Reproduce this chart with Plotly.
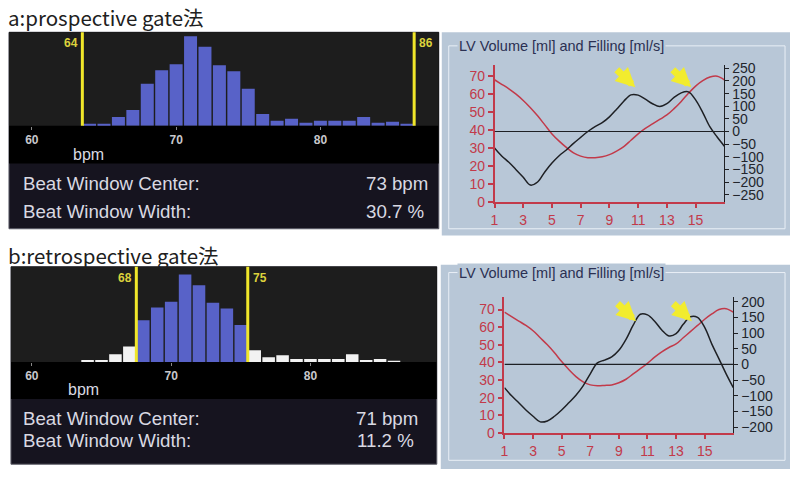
import plotly.graph_objects as go

W, H = 790, 479

# ---------------- data ----------------
bpm_bins = list(range(64, 87))
counts_a = [2, 2, 9, 16, 43, 57, 63, 92, 81, 62, 56, 38, 12, 5, 7, 3, 5, 5, 5, 9, 3, 4, 2]
counts_b = [2, 2, 8, 16, 43, 56, 62, 90, 79, 61, 55, 38, 12, 5, 7, 3, 3, 3, 3, 8, 2, 3, 1]
window_a = [64, 86]
window_b = [68, 75]
hist_ticks = [60, 70, 80]
center_a, width_a = "73 bpm", "30.7 %"
center_b, width_b = "71 bpm", "11.2 %"
title_a = "a:prospective gate法"
title_b = "b:retrospective gate法"
lv_title = "LV Volume [ml] and Filling [ml/s]"

frames = [1, 1.5, 2, 2.5, 3, 3.5, 4, 4.5, 5, 5.5, 6, 6.5, 7, 7.5, 8, 8.5, 9,
          9.5, 10, 10.5, 11, 11.5, 12, 12.5, 13, 13.5, 14, 14.5, 15, 15.5, 16, 16.5, 17]
volume_a = [68, 65.5, 63, 60, 56.5, 52.5, 48, 43, 38, 34, 30.5, 27.5, 25.7, 24.8, 24.8, 25.3, 26.5,
            28.5, 31, 34.5, 38, 41, 43.5, 46, 48.5, 52, 56, 60.5, 64.5, 67.5, 69.5, 70, 68]
filling_a = [-65, -97, -122, -151, -181, -212, -200, -160, -125, -96, -73, -47, -23, 0, 19, 35, 58,
             88, 120, 145, 144, 128, 110, 99, 110, 135, 153, 157, 125, 75, 18, -22, -58]
volume_b = [68.5, 66, 63.5, 61, 58, 54, 50, 45.5, 40.5, 36, 32, 29, 27.3, 26.8, 27, 27.3, 28.5,
            30.5, 33.5, 36.5, 39.5, 43, 46, 48.5, 50.5, 54, 57.5, 61, 64.5, 67.5, 70, 70.5, 68.5]
filling_b = [-74, -100, -122, -145, -165, -183, -180, -165, -145, -122, -98, -68, -30, 5, 14, 24, 45,
             80, 125, 160, 158, 138, 110, 91, 98, 128, 152, 150, 118, 65, 18, -30, -74]
frame_ticks = [1, 3, 5, 7, 9, 11, 13, 15]
vol_ticks = [0, 10, 20, 30, 40, 50, 60, 70]
fill_ticks_a = [-250, -200, -150, -100, -50, 0, 50, 100, 150, 200, 250]
fill_ticks_b = [-200, -150, -100, -50, 0, 50, 100, 150, 200]

# ---------------- helpers ----------------
def dx(p0, p1):
    return [p0 / W, p1 / W]

def dy(top, bottom):
    return [1 - bottom / H, 1 - top / H]

def px(p):
    return p / W

def py(p):
    return 1 - p / H

RED = "#c23a4a"
BLUE = "#5862c8"
YEL = "#f0e62a"
PANEL = "#b8c7d7"
TXT = "#d9d9e2"

fig = go.Figure()
shapes = []
ann = []

def rect(x0, y0, x1, y1, fill, line=None, lw=1):
    shapes.append(dict(type="rect", xref="paper", yref="paper",
                       x0=px(x0), x1=px(x1), y0=py(y1), y1=py(y0),
                       fillcolor=fill, line=dict(color=line or fill, width=lw if line else 0),
                       layer="below"))

def text(x, y, s, font, xanchor="left"):
    ann.append(dict(xref="paper", yref="paper", x=px(x), y=py(y), xanchor=xanchor,
                    yanchor="middle", text=s, showarrow=False, font=font))

# ---------------- histogram panels ----------------
def hist_panel(k, counts, window, left, right, top, base, band, bottom, ppb, x60,
               centre, width, tcy1, tcy2, vx1, vx2, bpm_x, bpm_y, ymax):
    xa = "x" if k == 1 else f"x{k}"
    ya = "y" if k == 1 else f"y{k}"
    lo, hi = window
    cols = [BLUE if lo <= b <= hi else "#f2f2f2" for b in bpm_bins]
    fig.add_trace(go.Bar(x=bpm_bins, y=counts, marker=dict(color=cols, line=dict(width=0)),
                         width=0.9, xaxis=xa, yaxis=ya, showlegend=False, hoverinfo="skip"))
    rng = [60 - (x60 - left) / ppb, 60 + (right - x60) / ppb]
    fig.layout[("xaxis" if k == 1 else f"xaxis{k}")] = dict(
        domain=dx(left, right), range=rng, anchor=ya, tickvals=hist_ticks,
        ticks="outside", ticklen=3, tickcolor="#888888", showgrid=False, zeroline=False,
        showline=False, tickfont=dict(family="Liberation Sans", size=12, color="#c8c8cc", weight="bold"))
    fig.layout[("yaxis" if k == 1 else f"yaxis{k}")] = dict(
        domain=dy(top, base), range=[0, ymax], anchor=xa, visible=False)
    rect(left, top, right, bottom, "#16141f", "#5a5a66", 1)
    rect(left, top, right, band, "#000000")
    rect(left, top, right, base, "#1d1d1d")
    for v in (lo - 0.5, hi + 0.5):
        shapes.append(dict(type="line", xref=xa, yref=f"{ya} domain", x0=v, x1=v, y0=0, y1=1,
                           line=dict(color=YEL, width=3), layer="above"))
    ann.append(dict(xref=xa, yref=f"{ya} domain", x=lo - 0.5, y=1, xanchor="right", yanchor="top",
                    xshift=-2, yshift=-2, text=str(lo), showarrow=False,
                    font=dict(family="Liberation Sans", size=12, color="#dcd23c", weight="bold")))
    ann.append(dict(xref=xa, yref=f"{ya} domain", x=hi + 0.5, y=1, xanchor="left", yanchor="top",
                    xshift=3, yshift=-2, text=str(hi), showarrow=False,
                    font=dict(family="Liberation Sans", size=12, color="#dcd23c", weight="bold")))
    f = dict(family="Liberation Sans", size=18.7, color=TXT)
    text(bpm_x, bpm_y, "bpm", dict(family="Liberation Sans", size=16, color=TXT), "center")
    text(17, tcy1, "Beat Window Center:", f)
    text(17, tcy2, "Beat Window Width:", f)
    text(vx1, tcy1, centre, f, "right")
    text(vx2, tcy2, width, f, "right")

hist_panel(1, counts_a, window_a, 5, 437, 28, 124, 163, 230, 14.5, 28,
           center_a, width_a, 183, 212, 428, 424, 85, 154, 96)
hist_panel(2, counts_b, window_b, 7, 435, 269, 367, 405, 472, 14.0, 28,
           center_b, width_b, 425, 448, 418, 414, 80, 395, 98)

# ---------------- LV panels ----------------
def lv_panel(xk, yl, yr, yi1, yi2, xi, vol, fill, fticks, left, right, top, bottom, vmax, frng,
             ptop, pbot, gtop, gbot, arrows):
    xa, ya, yb = f"x{xk}", f"y{yl}", f"y{yr}"
    rect(440 if ptop < 100 else 439, ptop, 790, pbot, PANEL)
    shapes.append(dict(type="rect", xref="paper", yref="paper", x0=px(447), x1=px(785),
                       y0=py(gbot), y1=py(gtop), line=dict(color="#e9eff6", width=1),
                       fillcolor="rgba(0,0,0,0)", layer="below"))
    ann.append(dict(xref="paper", yref="paper", x=px(455), y=py(gtop), xanchor="left",
                    yanchor="middle", text=lv_title, showarrow=False, bgcolor=PANEL, borderpad=1,
                    font=dict(family="Liberation Sans", size=14.5, color="#2b3052")))
    fig.add_trace(go.Scatter(x=frames, y=vol, mode="lines", line=dict(color=RED, width=1.5, shape="spline"),
                             xaxis=xa, yaxis=ya, showlegend=False, hoverinfo="skip"))
    fig.add_trace(go.Scatter(x=frames, y=fill, mode="lines", line=dict(color="#1e2024", width=1.5, shape="spline"),
                             xaxis=xa, yaxis=yb, showlegend=False, hoverinfo="skip"))
    fx = dict(family="Liberation Sans", size=14, color=RED)
    fig.layout[f"xaxis{xk}"] = dict(domain=dx(left, right), range=[1, 17], anchor=ya,
                                    tickvals=frame_ticks, ticks="outside", ticklen=4, tickwidth=1.5,
                                    tickcolor=RED, showline=True, linecolor=RED, linewidth=1.5,
                                    showgrid=False, zeroline=False, tickfont=fx)
    fig.layout[f"xaxis{xi}"] = dict(domain=dx(left, right), range=[1, 17], anchor=ya, overlaying=xa,
                                    tickvals=frame_ticks, ticks="inside", ticklen=8, tickwidth=1.5,
                                    tickcolor=RED, showticklabels=False, showgrid=False, zeroline=False)
    fig.layout[f"yaxis{yl}"] = dict(domain=dy(top, bottom), range=[0, vmax], anchor=xa,
                                    tickvals=vol_ticks, ticks="outside", ticklen=5, tickwidth=1.5,
                                    tickcolor=RED, showline=True, linecolor=RED, linewidth=1.5,
                                    showgrid=False, zeroline=False, tickfont=fx)
    fig.layout[f"yaxis{yi1}"] = dict(domain=dy(top, bottom), range=[0, vmax], anchor=xa, overlaying=ya,
                                     tickvals=vol_ticks, ticks="inside", ticklen=7, tickwidth=1.5,
                                     tickcolor=RED, showticklabels=False, showgrid=False, zeroline=False)
    fig.layout[f"yaxis{yr}"] = dict(domain=dy(top, bottom), range=frng, anchor=xa, overlaying=ya,
                                    side="right", tickvals=fticks, ticks="outside", ticklen=4,
                                    tickwidth=1.2, tickcolor="#1e2024", showline=True,
                                    linecolor="#1e2024", linewidth=1.2, showgrid=False, zeroline=False,
                                    tickfont=dict(family="Liberation Sans", size=14, color="#22252c"))
    fig.layout[f"yaxis{yi2}"] = dict(domain=dy(top, bottom), range=frng, anchor=xa, overlaying=ya,
                                     side="right", tickvals=fticks, ticks="inside", ticklen=4,
                                     tickwidth=1.2, tickcolor="#1e2024", showticklabels=False,
                                     showgrid=False, zeroline=False)
    shapes.append(dict(type="line", xref=xa, yref=yb, x0=1, x1=17, y0=0, y1=0,
                       line=dict(color="#1e2024", width=1.2), layer="above"))
    for fx_, fy_ in arrows:
        ann.append(dict(xref=xa, yref=yb, x=fx_, y=fy_, ax=-20, ay=-19, showarrow=True,
                        arrowhead=2, arrowsize=0.55, arrowwidth=7, arrowcolor="#f2ec2e", text=""))

lv_panel(3, 3, 4, 5, 6, 5, volume_a, filling_a, fill_ticks_a, 493, 724, 62, 203, 76, [-281, 262],
         28, 237, 42, 230, [(10.8, 175), (14.7, 175)])
lv_panel(4, 7, 8, 9, 10, 6, volume_b, filling_b, fill_ticks_b, 503, 733, 300, 440, 77.2, [-218.6, 215.5],
         267, 477, 275, 468, [(10.2, 138), (14.1, 138)])

# ---------------- titles ----------------
text(2, 12, title_a, dict(family="Noto Sans CJK JP", size=20.5, color="#202020"))
text(2, 257, title_b, dict(family="Noto Sans CJK JP", size=20.5, color="#202020"))

fig.update_layout(width=W, height=H, margin=dict(l=0, r=0, t=0, b=0),
                  paper_bgcolor="white", plot_bgcolor="rgba(0,0,0,0)",
                  shapes=shapes, annotations=ann, bargap=0.08, showlegend=False)

fig.write_html("out.html", config={"displayModeBar": False},
               post_script="document.body.style.margin='0';document.body.style.padding='0';"
                           "document.documentElement.style.overflow='hidden';")
